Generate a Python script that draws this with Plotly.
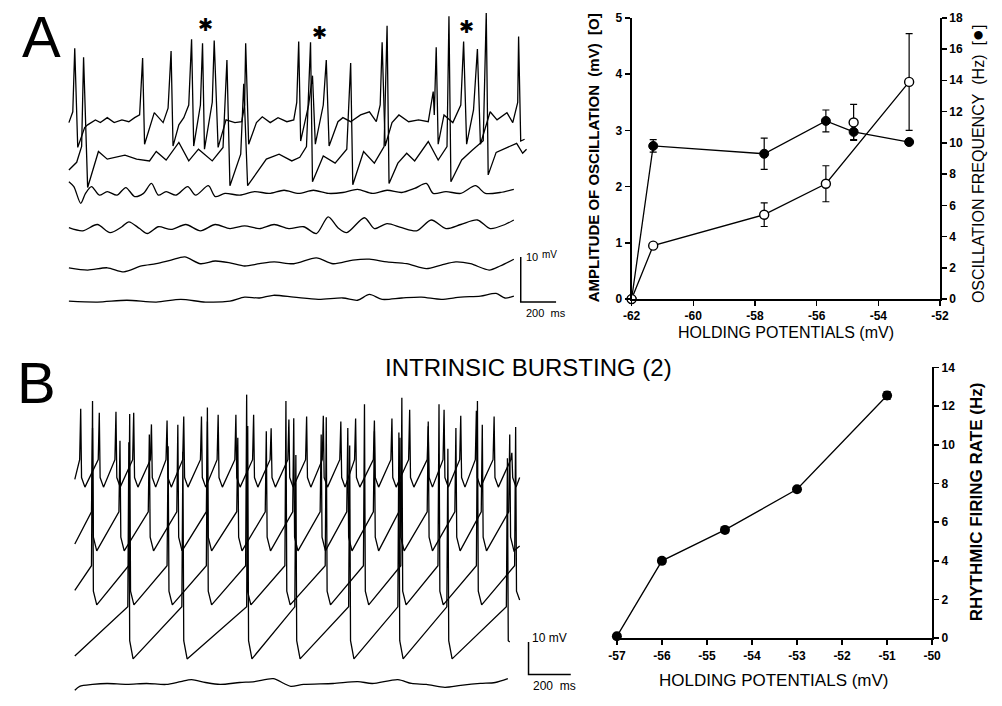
import plotly.graph_objects as go

W, H = 1002, 706
FONT = "Liberation Sans, Arial, Helvetica, sans-serif"

# ---------------- Panel A, right graph ----------------
a_hold = [-62.0, -61.3, -57.7, -55.7, -54.8, -53.0]
a_amp = [0.0, 0.95, 1.50, 2.05, 3.14, 3.86]            # mV, open circles
a_amp_err = [0.0, 0.0, 0.21, 0.32, 0.32, 0.86]
a_amp_joined = [True, True, True, True, False, True]
a_freq = [0.0, 9.8, 9.3, 11.4, 10.7, 10.05]            # Hz, filled circles
a_freq_err = [0.0, 0.4, 1.0, 0.7, 0.5, 0.0]
a_hold_ticks = [-62, -60, -58, -56, -54, -52]
a_amp_ticks = [0, 1, 2, 3, 4, 5]
a_freq_ticks = [0, 2, 4, 6, 8, 10, 12, 14, 16, 18]

# ---------------- Panel B, right graph ----------------
b_hold = [-57.0, -56.0, -54.6, -53.0, -51.0]
b_rate = [0.1, 4.0, 5.6, 7.7, 12.55]
b_rate_err = [0.0, 0.0, 0.0, 0.0, 0.2]
b_hold_ticks = [-57, -56, -55, -54, -53, -52, -51, -50]
b_rate_ticks = [0, 2, 4, 6, 8, 10, 12, 14]

# ---------------- Panel A voltage traces: (time ms, mV re. trace level) ----------------
a_trace1 = [(0, -0.2), (22, 2.2), (33, 16.3), (50, -5.7), (89, -1.3), (106, -0.7), (150, 0.4), (178, -0.2),
            (217, 0.9), (256, -0.2), (300, 0.4), (339, 0), (372, 0.9), (400, 1.5), (417, 14.1), (428, -5.0),
            (483, 2.0), (533, -0.2), (561, 3.0), (578, 15.7), (589, -5.4), (622, -0.7), (650, 0.9), (678, 3.7),
            (694, 18.3), (706, -5.4), (744, 3.7), (756, 17.4), (767, -6.1), (811, 4.3), (822, 18.0), (844, -5.7),
            (889, 0.4), (939, -0.2), (978, 0), (994, 3.7), (1000, 17.4), (1017, -5.0), (1061, -0.2), (1094, 1.1),
            (1139, -0.2), (1183, 0.9), (1233, 0), (1272, 0.4), (1289, 4.3), (1300, 17.8), (1311, -4.3),
            (1356, 3.7), (1378, 10.2), (1394, -5.0), (1439, 3.7), (1456, 13.7), (1472, -5.4), (1522, 0),
            (1550, 0.9), (1594, 0), (1650, 1.5), (1700, 2.2), (1739, 0), (1761, 3.7), (1772, 17.6), (1789, -5.4),
            (1828, -0.2), (1867, 1.5), (1922, 0), (1978, 0.4), (2033, 0), (2061, 6.7), (2067, 1.5), (2078, 16.5),
            (2089, -5.0), (2122, 1.5), (2172, -0.2), (2217, 3.7), (2233, 17.8), (2250, -5.0), (2289, 2.6),
            (2311, 16.1), (2328, -5.0), (2383, 2.2), (2422, 0.4), (2478, 2.0), (2511, -0.2), (2539, 4.3),
            (2544, 18.9), (2556, -4.3), (2578, -3.9)]
a_trace2 = [(0, -2.4), (44, -0.7), (72, 2.8), (83, 22.6), (106, -6.3), (167, 1.7), (217, 0), (256, 0.4),
            (317, 0.9), (383, 0), (456, -0.4), (494, 1.7), (550, -0.2), (622, 3.7), (678, -0.4), (733, 2.2),
            (811, -0.4), (872, 2.6), (894, 22.0), (911, -5.9), (972, 1.1), (989, 16.7), (1011, -5.9), (1117, 0),
            (1189, 1.1), (1261, -0.4), (1306, 0.4), (1344, 2.8), (1367, 25.9), (1378, -5.0), (1439, 0.7),
            (1506, -0.9), (1572, 2.2), (1594, 21.3), (1606, -5.7), (1667, 1.7), (1728, -0.9), (1783, 2.8),
            (1800, 29.6), (1811, -5.4), (1861, -0.9), (1911, 1.3), (1956, -0.4), (2033, 3.9), (2089, -0.2),
            (2139, 2.8), (2150, 31.7), (2161, -5.0), (2222, -0.2), (2283, 2.0), (2344, 4.1), (2361, 32.4),
            (2372, -3.5), (2417, 1.5), (2472, 2.4), (2533, 3.5), (2567, 1.3), (2589, 2.2)]
a_trace3 = [(0, 2.6), (28, 1.5), (67, -2.2), (94, 0), (128, 1.5), (172, -0.4), (217, 0.4), (272, -0.4),
            (322, 1.3), (372, -0.7), (422, 0), (467, 2.2), (506, -0.4), (550, 0.4), (606, -0.4), (672, 1.5),
            (717, -0.4), (789, 1.7), (828, -0.7), (883, 0), (967, -0.4), (1050, 0.4), (1133, 0), (1217, 0.7),
            (1300, 0), (1383, 0.7), (1467, 0), (1550, 0.2), (1633, 0.9), (1717, 0), (1800, 0.7), (1883, 0.2),
            (1956, 1.1), (2022, 2.2), (2061, 0), (2133, 0.4), (2217, 0), (2300, 1.7), (2356, 0), (2439, 0.2),
            (2517, 0.9)]
a_trace4 = [(0, 0), (78, -0.7), (161, 0.7), (233, -1.1), (300, 0.2), (339, 1.3), (400, -0.2), (444, -1.3),
            (506, 0.2), (578, -0.4), (661, 0.7), (744, -0.7), (828, 0.7), (911, -0.2), (994, 0.4), (1078, -0.2),
            (1161, 0.7), (1244, -0.2), (1328, 0.2), (1400, -1.3), (1467, 2.4), (1522, 0), (1572, -1.1),
            (1672, 2.2), (1728, -0.2), (1800, 0.9), (1883, 0), (1967, -0.7), (2050, 1.7), (2133, -0.2),
            (2217, 0.7), (2311, 1.7), (2383, -0.2), (2467, 0.7), (2517, 1.7)]
a_trace5 = [(0, -0.2), (106, -0.7), (217, -0.2), (311, -1.1), (411, 0.2), (494, 0.7), (578, 1.5), (656, 2.2),
            (744, 0.7), (828, 1.3), (911, 0.9), (994, 0.2), (1078, 0.7), (1161, 1.1), (1272, 0.7), (1400, 2.0),
            (1494, 0.7), (1606, 1.5), (1700, 1.7), (1800, 1.1), (1911, 0.7), (2022, -0.4), (2106, 0.4),
            (2189, 1.1), (2272, 0.7), (2378, -0.7), (2439, 0.2), (2517, 1.7)]
a_trace6 = [(0, 0), (161, -0.2), (328, 0.2), (494, -0.2), (633, 0.4), (772, -0.2), (911, 0), (994, 0.9),
            (1078, 0.7), (1156, 1.3), (1272, 0.9), (1411, 0.4), (1550, 0.7), (1633, 0.2), (1700, 1.5),
            (1772, 0.4), (1883, 0.7), (1994, 0.9), (2106, 0.4), (2217, 0.9), (2328, 1.1), (2417, 1.7),
            (2467, 0.7), (2517, 1.1)]
a_traces = [a_trace1, a_trace2, a_trace3, a_trace4, a_trace5, a_trace6]
a_levels = [46.3, 38.0, 30.4, 22.8, 14.1, 6.5]          # display level of each sweep, mV

# ---------------- Panel B voltage traces: spike times (ms) and peaks (mV re. AHP trough) ----------------
b_spikes1 = [28, 116, 195, 279, 363, 437, 516, 600, 679, 763, 847, 930, 1014, 1098, 1177, 1260, 1330,
             1419, 1502, 1586, 1674, 1749, 1828, 1902, 1986, 2070]
b_peaks1 = [24.2, 23.0, 23.3, 23.0, 19.4, 20.6, 21.8, 21.8, 22.4, 22.4, 22.4, 18.2, 20.9, 21.8, 22.1,
            20.3, 21.2, 20.6, 21.2, 23.9, 18.8, 23.9, 22.1, 23.6, 21.8, 10.6]
b_spikes2 = [84, 214, 353, 488, 628, 772, 907, 1037, 1167, 1293, 1419, 1540, 1674, 1805, 1930, 2060]
b_peaks2 = [38, 34, 36, 39, 40, 35, 37, 41, 36, 38, 37, 35, 40, 38, 39, 36]
b_spikes3 = [84, 260, 442, 628, 814, 1000, 1191, 1372, 1549, 1725, 1907, 2088]
b_peaks3 = [63, 59, 49, 61, 65, 63, 58, 62, 64, 62, 63, 55]
b_spikes4 = [256, 512, 819, 1047, 1302, 1535, 1767, 2049]
b_peaks4 = [67, 64, 72, 63, 66, 70, 65, 62]
b_threshold = [8.5, 12.1, 12.1, 16.1]                 # mV above trough where spikes take off
b_start_v = [2.4, 2.1, 4.5, 0.9]
b_end = [(2107, 3.0), (2107, 1.5), (2107, 1.5), (2060, 5.2)]
b_trace5 = [(0, -2.1), (23, -0.9), (84, -0.3), (153, 0), (247, -0.3), (340, 0), (433, -0.3), (502, 0.6),
            (553, 1.2), (619, 0.3), (688, -0.3), (781, 0.3), (851, 0.6), (940, 1.5), (991, 0), (1023, -0.9),
            (1084, -0.3), (1223, 0), (1340, 0.6), (1409, 0), (1530, 1.2), (1595, 0), (1665, -0.3),
            (1753, -1.2), (1828, -0.6), (1921, 0), (1991, 0.3), (2051, 1.5)]
b_levels = [65.5, 45.8, 29.1, 12.4, 4.8]

# scale bars
bar_mv = 10
bar_ms = 200


def px_x(p):
    return p / W


def px_y(p):
    return 1 - p / H


def burst_path(spikes, peaks, thr, v0, end):
    t_end, v_end = end
    xs, ys = [0.0], [v0]
    for t, p in zip(spikes, peaks):
        for dx, dy in ((t - 5, thr), (t, p), (t + 4, 0.35 * thr), (t + 20, 0.0)):
            if dx < t_end:
                xs.append(dx)
                ys.append(dy)
    xs.append(t_end)
    ys.append(v_end)
    return xs, ys


fig = go.Figure()

# Panel A sweeps
for k, (pts, lev) in enumerate(zip(a_traces, a_levels)):
    fig.add_trace(go.Scatter(x=[p[0] for p in pts], y=[p[1] + lev for p in pts], mode="lines",
                             line=dict(color="black", width=1.3, shape="linear" if k < 2 else "spline",
                                       smoothing=0.8),
                             xaxis="x", yaxis="y", hoverinfo="skip"))
# scale bar A
fig.add_trace(go.Scatter(x=[2556, 2556, 2556 + bar_ms], y=[6.3 + bar_mv, 6.3, 6.3], mode="lines",
                         line=dict(color="black", width=1.5), xaxis="x", yaxis="y", hoverinfo="skip"))

# Panel B sweeps
b_sp = [b_spikes1, b_spikes2, b_spikes3, b_spikes4]
b_pk = [b_peaks1, b_peaks2, b_peaks3, b_peaks4]
for i in range(4):
    xs, ys = burst_path(b_sp[i], b_pk[i], b_threshold[i], b_start_v[i], b_end[i])
    fig.add_trace(go.Scatter(x=xs, y=[v + b_levels[i] for v in ys], mode="lines",
                             line=dict(color="black", width=1.3), xaxis="x5", yaxis="y5", hoverinfo="skip"))
fig.add_trace(go.Scatter(x=[p[0] for p in b_trace5], y=[p[1] + b_levels[4] for p in b_trace5], mode="lines",
                         line=dict(color="black", width=1.3, shape="spline", smoothing=0.8),
                         xaxis="x5", yaxis="y5", hoverinfo="skip"))
fig.add_trace(go.Scatter(x=[2149, 2149, 2149 + bar_ms], y=[7.6 + bar_mv, 7.6, 7.6], mode="lines",
                         line=dict(color="black", width=1.5), xaxis="x5", yaxis="y5", hoverinfo="skip"))

# Panel A graph: frequency (filled) on the base (right) axis
fig.add_trace(go.Scatter(x=a_hold, y=a_freq, mode="lines+markers", xaxis="x2", yaxis="y2",
                         line=dict(color="black", width=1.3),
                         marker=dict(size=9, color="black", line=dict(color="black", width=1)),
                         error_y=dict(type="data", array=a_freq_err, color="black", thickness=1.2, width=3.5),
                         cliponaxis=False, hoverinfo="skip"))
# amplitude (open) on the overlaying (left) axis, drawn on top
amp_x = [h for h, j in zip(a_hold, a_amp_joined) if j]
amp_y = [a for a, j in zip(a_amp, a_amp_joined) if j]
amp_e = [e for e, j in zip(a_amp_err, a_amp_joined) if j]
fig.add_trace(go.Scatter(x=amp_x, y=amp_y, mode="lines+markers", xaxis="x2", yaxis="y3",
                         line=dict(color="black", width=1.3),
                         marker=dict(size=9, color="white", line=dict(color="black", width=1.4)),
                         error_y=dict(type="data", array=amp_e, color="black", thickness=1.2, width=3.5),
                         cliponaxis=False, hoverinfo="skip"))
fig.add_trace(go.Scatter(x=[h for h, j in zip(a_hold, a_amp_joined) if not j],
                         y=[a for a, j in zip(a_amp, a_amp_joined) if not j], mode="markers",
                         xaxis="x2", yaxis="y3",
                         marker=dict(size=9, color="white", line=dict(color="black", width=1.4)),
                         error_y=dict(type="data", array=[e for e, j in zip(a_amp_err, a_amp_joined) if not j],
                                      color="black", thickness=1.2, width=3.5),
                         cliponaxis=False, hoverinfo="skip"))

# Panel B graph
fig.add_trace(go.Scatter(x=b_hold, y=b_rate, mode="lines+markers", xaxis="x4", yaxis="y4",
                         line=dict(color="black", width=1.3),
                         marker=dict(size=10, color="black"),
                         error_y=dict(type="data", array=b_rate_err, color="black", thickness=1.2, width=3.5),
                         cliponaxis=False, hoverinfo="skip"))

TICKFONT = dict(family=FONT, size=12, color="black", weight="bold")
AX = dict(showline=True, linewidth=2, linecolor="black", ticks="outside", ticklen=5, tickwidth=1.5,
          tickcolor="black", showgrid=False, zeroline=False, tickfont=TICKFONT, fixedrange=True)


def lab(v):
    return ("-" + str(-v)) if v < 0 else str(v)


fig.update_layout(
    width=W, height=H, margin=dict(l=0, r=0, t=0, b=0),
    paper_bgcolor="white", plot_bgcolor="white", showlegend=False,
    xaxis=dict(domain=[0, px_x(600)], range=[-61 * 200 / 36, (600 - 61) * 200 / 36],
               visible=False, fixedrange=True),
    yaxis=dict(domain=[px_y(330), 1], range=[0, 330 / 4.6], visible=False, fixedrange=True),
    xaxis5=dict(domain=[0, px_x(600)], range=[-67 * 200 / 43, (600 - 67) * 200 / 43],
                visible=False, anchor="y5", fixedrange=True),
    yaxis5=dict(domain=[0, px_y(395)], range=[0, 311 / 3.3], visible=False,
                anchor="x5", fixedrange=True),
    xaxis2=dict(AX, domain=[px_x(634), px_x(948)], range=[-62, -52], anchor="y2",
                tickvals=a_hold_ticks, ticktext=[lab(v) for v in a_hold_ticks]),
    yaxis2=dict(AX, domain=[px_y(298), px_y(11)], range=[0, 18], anchor="x2", side="right",
                tickvals=a_freq_ticks, ticktext=[lab(v) for v in a_freq_ticks]),
    yaxis3=dict(AX, range=[0, 5], anchor="x2", overlaying="y2", side="left",
                tickvals=a_amp_ticks, ticktext=[lab(v) for v in a_amp_ticks]),
    xaxis4=dict(AX, domain=[px_x(619), px_x(940)], range=[-57, -50], anchor="y4",
                tickvals=b_hold_ticks, ticktext=[lab(v) for v in b_hold_ticks]),
    yaxis4=dict(AX, domain=[px_y(644), px_y(367.7)], range=[0, 14], anchor="x4", side="right",
                tickvals=b_rate_ticks, ticktext=[lab(v) for v in b_rate_ticks]),
)

NB = "\u00a0"


def ann(text, x, y, size, bold=False, angle=0, xanchor="center", yanchor="middle", family=FONT):
    fig.add_annotation(text=("<b>%s</b>" % text) if bold else text, x=px_x(x), y=px_y(y),
                       xref="paper", yref="paper", showarrow=False, textangle=angle,
                       xanchor=xanchor, yanchor=yanchor,
                       font=dict(family=family, size=size, color="black"))


ann("A", 33, 30, 58)
ann("B", 28, 383, 58)
for ax_, ay_ in ((200, 18), (316, 26), (466, 20)):
    ann("\u2731", ax_, ay_, 18, family="DejaVu Sans")
ann("10", 533, 255, 11)
ann("mV", 550, 252, 10)
ann("200" + NB + NB + "ms", 547, 312, 11)
ann("10" + NB + "mV", 550, 644, 12)
ann("200" + NB + NB + "ms", 555, 693, 12)
ann("INTRINSIC BURSTING (2)", 529, 368, 24)
ann("AMPLITUDE OF OSCILLATION" + NB + NB + "(mV)" + NB + NB + "[O]", 596, 154, 15, bold=True, angle=-90)
ann("OSCILLATION FREQUENCY" + NB + NB + "(Hz)" + NB + NB + "[<span style='font-size:20px'>\u25cf</span>]",
    986, 160, 16, angle=-90)
ann("HOLDING POTENTIALS (mV)", 791, 332, 16)
ann("RHYTHMIC FIRING RATE (Hz)", 986, 505, 17, bold=True, angle=-90)
ann("HOLDING POTENTIALS (mV)", 779, 687, 17)

fig.write_html("out.html", config={"displayModeBar": False, "staticPlot": True},
               post_script="document.body.style.margin='0px';document.body.style.overflow='hidden';")
